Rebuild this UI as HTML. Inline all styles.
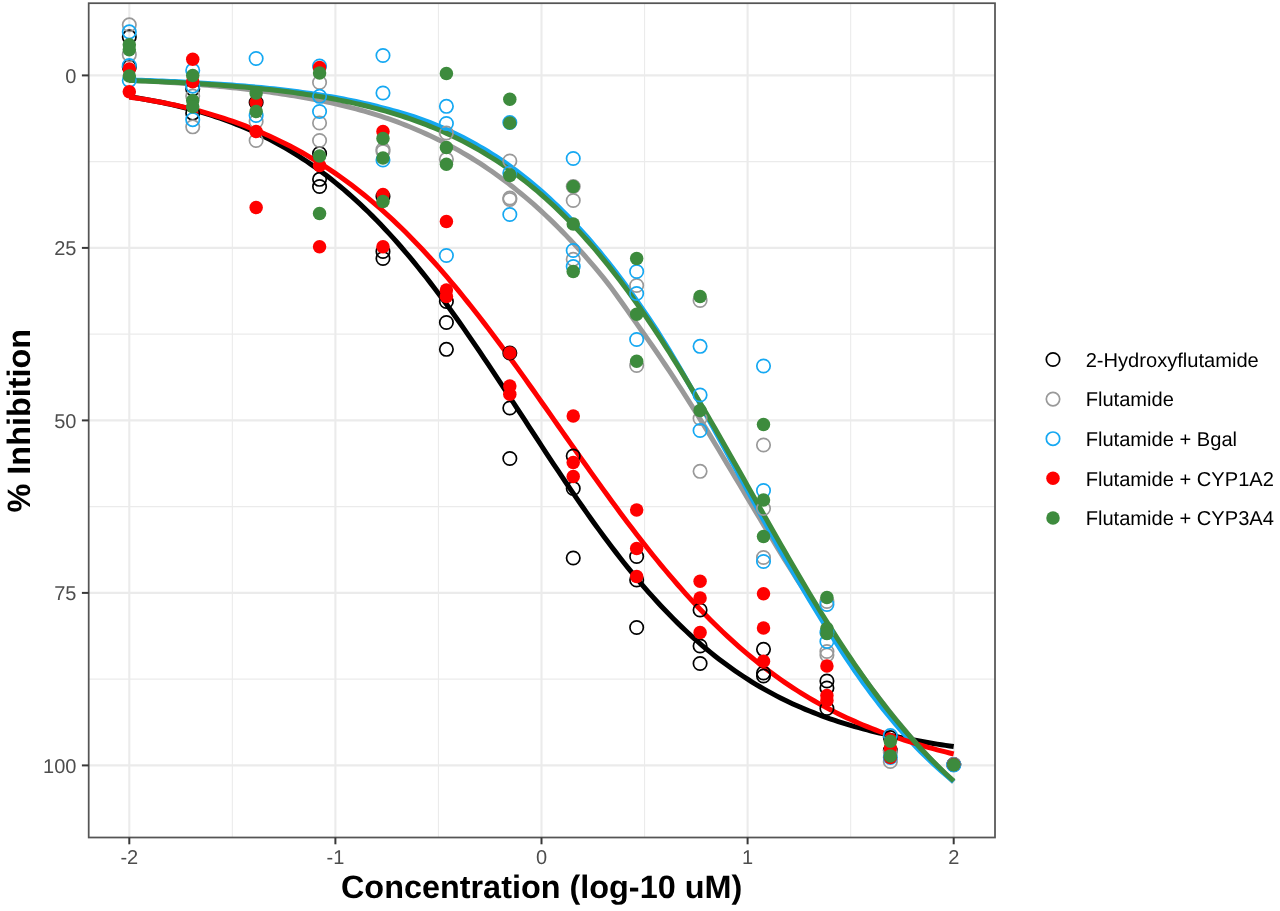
<!DOCTYPE html>
<html><head><meta charset="utf-8"><title>Dose response</title>
<style>html,body{margin:0;padding:0;background:#fff;}body{width:1280px;height:911px;overflow:hidden;position:relative;font-family:"Liberation Sans",sans-serif;}</style></head>
<body>
<svg width="1280" height="911" viewBox="0 0 1280 911" style="position:absolute;left:0;top:0;text-rendering:geometricPrecision;will-change:transform">
<rect x="0" y="0" width="1280" height="911" fill="#ffffff"/>
<line x1="232.35" y1="3.2" x2="232.35" y2="837.5" stroke="#ebebeb" stroke-width="1.1"/>
<line x1="438.45" y1="3.2" x2="438.45" y2="837.5" stroke="#ebebeb" stroke-width="1.1"/>
<line x1="644.55" y1="3.2" x2="644.55" y2="837.5" stroke="#ebebeb" stroke-width="1.1"/>
<line x1="850.65" y1="3.2" x2="850.65" y2="837.5" stroke="#ebebeb" stroke-width="1.1"/>
<line x1="88.7" y1="161.65" x2="995.0" y2="161.65" stroke="#ebebeb" stroke-width="1.1"/>
<line x1="88.7" y1="334.15" x2="995.0" y2="334.15" stroke="#ebebeb" stroke-width="1.1"/>
<line x1="88.7" y1="506.65" x2="995.0" y2="506.65" stroke="#ebebeb" stroke-width="1.1"/>
<line x1="88.7" y1="679.15" x2="995.0" y2="679.15" stroke="#ebebeb" stroke-width="1.1"/>
<line x1="129.30" y1="3.2" x2="129.30" y2="837.5" stroke="#ebebeb" stroke-width="2.1"/>
<line x1="335.40" y1="3.2" x2="335.40" y2="837.5" stroke="#ebebeb" stroke-width="2.1"/>
<line x1="541.50" y1="3.2" x2="541.50" y2="837.5" stroke="#ebebeb" stroke-width="2.1"/>
<line x1="747.60" y1="3.2" x2="747.60" y2="837.5" stroke="#ebebeb" stroke-width="2.1"/>
<line x1="953.70" y1="3.2" x2="953.70" y2="837.5" stroke="#ebebeb" stroke-width="2.1"/>
<line x1="88.7" y1="75.40" x2="995.0" y2="75.40" stroke="#ebebeb" stroke-width="2.1"/>
<line x1="88.7" y1="247.90" x2="995.0" y2="247.90" stroke="#ebebeb" stroke-width="2.1"/>
<line x1="88.7" y1="420.40" x2="995.0" y2="420.40" stroke="#ebebeb" stroke-width="2.1"/>
<line x1="88.7" y1="592.90" x2="995.0" y2="592.90" stroke="#ebebeb" stroke-width="2.1"/>
<line x1="88.7" y1="765.40" x2="995.0" y2="765.40" stroke="#ebebeb" stroke-width="2.1"/>
<path d="M129.30,96.78 L133.42,97.40 L137.54,98.05 L141.67,98.73 L145.79,99.44 L149.91,100.17 L154.03,100.94 L158.15,101.74 L162.28,102.57 L166.40,103.43 L170.52,104.33 L174.64,105.27 L178.76,106.24 L182.89,107.26 L187.01,108.31 L191.13,109.40 L195.25,110.54 L199.37,111.71 L203.50,112.92 L207.62,114.18 L211.74,115.48 L215.86,116.83 L219.98,118.23 L224.11,119.67 L228.23,121.17 L232.35,122.72 L236.47,124.32 L240.59,125.98 L244.72,127.71 L248.84,129.49 L252.96,131.34 L257.08,133.25 L261.20,135.22 L265.33,137.25 L269.45,139.35 L273.57,141.51 L277.69,143.74 L281.81,146.03 L285.94,148.39 L290.06,150.83 L294.18,153.33 L298.30,155.91 L302.42,158.56 L306.55,161.28 L310.67,164.09 L314.79,166.97 L318.91,169.93 L323.03,172.97 L327.16,176.10 L331.28,179.31 L335.40,182.60 L339.52,185.97 L343.64,189.43 L347.77,192.98 L351.89,196.62 L356.01,200.34 L360.13,204.16 L364.25,208.06 L368.38,212.05 L372.50,216.14 L376.62,220.31 L380.74,224.57 L384.86,228.93 L388.99,233.37 L393.11,237.90 L397.23,242.53 L401.35,247.24 L405.47,252.04 L409.60,256.93 L413.72,261.90 L417.84,266.96 L421.96,272.10 L426.08,277.32 L430.21,282.62 L434.33,288.00 L438.45,293.46 L442.57,298.99 L446.69,304.60 L450.82,310.27 L454.94,316.01 L459.06,321.81 L463.18,327.67 L467.30,333.59 L471.43,339.57 L475.55,345.60 L479.67,351.67 L483.79,357.79 L487.91,363.94 L492.04,370.14 L496.16,376.36 L500.28,382.61 L504.40,388.89 L508.52,395.19 L512.65,401.50 L516.77,407.82 L520.89,414.15 L525.01,420.48 L529.13,426.81 L533.26,433.14 L537.38,439.45 L541.50,445.75 L545.62,452.03 L549.74,458.29 L553.87,464.51 L557.99,470.71 L562.11,476.87 L566.23,482.99 L570.35,489.07 L574.48,495.10 L578.60,501.09 L582.72,507.01 L586.84,512.88 L590.96,518.69 L595.09,524.44 L599.21,530.12 L603.33,535.73 L607.45,541.27 L611.57,546.74 L615.70,552.13 L619.82,557.44 L623.94,562.68 L628.06,567.83 L632.18,572.89 L636.31,577.88 L640.43,582.77 L644.55,587.58 L648.67,592.31 L652.79,596.94 L656.92,601.48 L661.04,605.94 L665.16,610.30 L669.28,614.58 L673.40,618.76 L677.53,622.86 L681.65,626.86 L685.77,630.77 L689.89,634.60 L694.01,638.33 L698.14,641.98 L702.26,645.54 L706.38,649.01 L710.50,652.40 L714.62,655.70 L718.75,658.92 L722.87,662.05 L726.99,665.11 L731.11,668.08 L735.23,670.97 L739.36,673.79 L743.48,676.53 L747.60,679.19 L751.72,681.78 L755.84,684.30 L759.97,686.74 L764.09,689.12 L768.21,691.42 L772.33,693.66 L776.45,695.84 L780.58,697.95 L784.70,699.99 L788.82,701.98 L792.94,703.90 L797.06,705.77 L801.19,707.58 L805.31,709.34 L809.43,711.04 L813.55,712.69 L817.67,714.28 L821.80,715.83 L825.92,717.33 L830.04,718.78 L834.16,720.18 L838.28,721.54 L842.41,722.86 L846.53,724.13 L850.65,725.37 L854.77,726.56 L858.89,727.71 L863.02,728.83 L867.14,729.91 L871.26,730.96 L875.38,731.97 L879.50,732.95 L883.63,733.89 L887.75,734.81 L891.87,735.69 L895.99,736.56 L900.11,737.40 L904.24,738.23 L908.36,739.03 L912.48,739.82 L916.60,740.58 L920.72,741.33 L924.85,742.05 L928.97,742.76 L933.09,743.45 L937.21,744.11 L941.33,744.76 L945.46,745.39 L949.58,746.00 L953.70,746.58" fill="none" stroke="#000000" stroke-width="5.0" stroke-linejoin="round" stroke-linecap="butt"/>
<path d="M129.30,80.25 L133.42,80.45 L137.54,80.65 L141.67,80.86 L145.79,81.08 L149.91,81.31 L154.03,81.54 L158.15,81.78 L162.28,82.02 L166.40,82.28 L170.52,82.54 L174.64,82.81 L178.76,83.09 L182.89,83.38 L187.01,83.68 L191.13,83.99 L195.25,84.30 L199.37,84.63 L203.50,84.97 L207.62,85.32 L211.74,85.68 L215.86,86.05 L219.98,86.44 L224.11,86.83 L228.23,87.24 L232.35,87.67 L236.47,88.11 L240.59,88.56 L244.72,89.02 L248.84,89.51 L252.96,90.00 L257.08,90.52 L261.20,91.04 L265.33,91.59 L269.45,92.14 L273.57,92.72 L277.69,93.31 L281.81,93.91 L285.94,94.54 L290.06,95.18 L294.18,95.85 L298.30,96.53 L302.42,97.24 L306.55,97.97 L310.67,98.73 L314.79,99.51 L318.91,100.31 L323.03,101.14 L327.16,102.00 L331.28,102.89 L335.40,103.81 L339.52,104.76 L343.64,105.74 L347.77,106.75 L351.89,107.80 L356.01,108.89 L360.13,110.01 L364.25,111.16 L368.38,112.36 L372.50,113.60 L376.62,114.88 L380.74,116.20 L384.86,117.56 L388.99,118.97 L393.11,120.43 L397.23,121.94 L401.35,123.49 L405.47,125.10 L409.60,126.75 L413.72,128.45 L417.84,130.21 L421.96,132.01 L426.08,133.87 L430.21,135.78 L434.33,137.74 L438.45,139.76 L442.57,141.83 L446.69,143.95 L450.82,146.13 L454.94,148.38 L459.06,150.69 L463.18,153.06 L467.30,155.50 L471.43,158.01 L475.55,160.58 L479.67,163.22 L483.79,165.92 L487.91,168.70 L492.04,171.54 L496.16,174.45 L500.28,177.44 L504.40,180.49 L508.52,183.62 L512.65,186.82 L516.77,190.09 L520.89,193.44 L525.01,196.88 L529.13,200.39 L533.26,203.98 L537.38,207.65 L541.50,211.40 L545.62,215.23 L549.74,219.14 L553.87,223.14 L557.99,227.22 L562.11,231.37 L566.23,235.62 L570.35,239.94 L574.48,244.35 L578.60,248.83 L582.72,253.39 L586.84,258.04 L590.96,262.78 L595.09,267.61 L599.21,272.54 L603.33,277.62 L607.45,282.90 L611.57,288.36 L615.70,293.96 L619.82,299.68 L623.94,305.49 L628.06,311.35 L632.18,317.23 L636.31,323.11 L640.43,328.95 L644.55,334.74 L648.67,340.60 L652.79,346.53 L656.92,352.53 L661.04,358.60 L665.16,364.74 L669.28,370.94 L673.40,377.20 L677.53,383.53 L681.65,389.91 L685.77,396.35 L689.89,402.85 L694.01,409.40 L698.14,416.00 L702.26,422.65 L706.38,429.36 L710.50,436.13 L714.62,442.95 L718.75,449.80 L722.87,456.69 L726.99,463.60 L731.11,470.51 L735.23,477.43 L739.36,484.34 L743.48,491.24 L747.60,498.14 L751.72,505.03 L755.84,511.91 L759.97,518.78 L764.09,525.63 L768.21,532.47 L772.33,539.28 L776.45,546.08 L780.58,552.85 L784.70,559.58 L788.82,566.22 L792.94,572.79 L797.06,579.29 L801.19,585.72 L805.31,592.09 L809.43,598.42 L813.55,604.70 L817.67,610.95 L821.80,617.17 L825.92,623.37 L830.04,629.55 L834.16,635.67 L838.28,641.73 L842.41,647.74 L846.53,653.68 L850.65,659.55 L854.77,665.37 L858.89,671.11 L863.02,676.78 L867.14,682.39 L871.26,687.92 L875.38,693.38 L879.50,698.76 L883.63,704.08 L887.75,709.31 L891.87,714.47 L895.99,719.54 L900.11,724.54 L904.24,729.45 L908.36,734.27 L912.48,739.02 L916.60,743.68 L920.72,748.25 L924.85,752.75 L928.97,757.16 L933.09,761.49 L937.21,765.74 L941.33,769.91 L945.46,774.00 L949.58,778.01 L953.70,781.94" fill="none" stroke="#999999" stroke-width="5.0" stroke-linejoin="round" stroke-linecap="butt"/>
<path d="M129.30,79.85 L133.42,79.99 L137.54,80.13 L141.67,80.28 L145.79,80.43 L149.91,80.58 L154.03,80.74 L158.15,80.91 L162.28,81.08 L166.40,81.25 L170.52,81.43 L174.64,81.62 L178.76,81.82 L182.89,82.02 L187.01,82.23 L191.13,82.44 L195.25,82.67 L199.37,82.90 L203.50,83.14 L207.62,83.39 L211.74,83.64 L215.86,83.91 L219.98,84.19 L224.11,84.47 L228.23,84.77 L232.35,85.08 L236.47,85.40 L240.59,85.73 L244.72,86.07 L248.84,86.43 L252.96,86.80 L257.08,87.18 L261.20,87.58 L265.33,87.99 L269.45,88.41 L273.57,88.85 L277.69,89.30 L281.81,89.77 L285.94,90.25 L290.06,90.75 L294.18,91.27 L298.30,91.80 L302.42,92.36 L306.55,92.93 L310.67,93.52 L314.79,94.14 L318.91,94.77 L323.03,95.43 L327.16,96.11 L331.28,96.81 L335.40,97.54 L339.52,98.29 L343.64,99.06 L347.77,99.86 L351.89,100.69 L356.01,101.54 L360.13,102.43 L364.25,103.34 L368.38,104.28 L372.50,105.26 L376.62,106.26 L380.74,107.30 L384.86,108.37 L388.99,109.46 L393.11,110.57 L397.23,111.71 L401.35,112.89 L405.47,114.11 L409.60,115.38 L413.72,116.71 L417.84,118.11 L421.96,119.57 L426.08,121.09 L430.21,122.66 L434.33,124.29 L438.45,125.98 L442.57,127.74 L446.69,129.59 L450.82,131.49 L454.94,133.46 L459.06,135.48 L463.18,137.57 L467.30,139.72 L471.43,141.93 L475.55,144.21 L479.67,146.56 L483.79,148.98 L487.91,151.47 L492.04,154.03 L496.16,156.66 L500.28,159.38 L504.40,162.16 L508.52,165.03 L512.65,167.98 L516.77,171.01 L520.89,174.14 L525.01,177.36 L529.13,180.67 L533.26,184.07 L537.38,187.56 L541.50,191.14 L545.62,194.82 L549.74,198.59 L553.87,202.46 L557.99,206.41 L562.11,210.47 L566.23,214.61 L570.35,218.85 L574.48,223.18 L578.60,227.61 L582.72,232.13 L586.84,236.75 L590.96,241.47 L595.09,246.29 L599.21,251.20 L603.33,256.22 L607.45,261.33 L611.57,266.55 L615.70,271.86 L619.82,277.28 L623.94,282.79 L628.06,288.41 L632.18,294.12 L636.31,299.94 L640.43,305.85 L644.55,311.86 L648.67,317.96 L652.79,324.16 L656.92,330.49 L661.04,336.99 L665.16,343.64 L669.28,350.42 L673.40,357.31 L677.53,364.29 L681.65,371.34 L685.77,378.45 L689.89,385.65 L694.01,392.96 L698.14,400.35 L702.26,407.79 L706.38,415.26 L710.50,422.72 L714.62,430.21 L718.75,437.72 L722.87,445.25 L726.99,452.80 L731.11,460.35 L735.23,467.90 L739.36,475.45 L743.48,482.98 L747.60,490.54 L751.72,498.09 L755.84,505.65 L759.97,513.18 L764.09,520.69 L768.21,528.17 L772.33,535.60 L776.45,542.97 L780.58,550.28 L784.70,557.52 L788.82,564.68 L792.94,571.77 L797.06,578.82 L801.19,585.83 L805.31,592.77 L809.43,599.66 L813.55,606.49 L817.67,613.26 L821.80,619.96 L825.92,626.58 L830.04,633.14 L834.16,639.61 L838.28,646.01 L842.41,652.33 L846.53,658.56 L850.65,664.70 L854.77,670.74 L858.89,676.65 L863.02,682.43 L867.14,688.10 L871.26,693.65 L875.38,699.09 L879.50,704.41 L883.63,709.63 L887.75,714.74 L891.87,719.74 L895.99,724.65 L900.11,729.46 L904.24,734.15 L908.36,738.71 L912.48,743.15 L916.60,747.46 L920.72,751.67 L924.85,755.77 L928.97,759.76 L933.09,763.66 L937.21,767.45 L941.33,771.13 L945.46,774.70 L949.58,778.17 L953.70,781.54" fill="none" stroke="#15A8F2" stroke-width="5.0" stroke-linejoin="round" stroke-linecap="butt"/>
<path d="M129.30,97.07 L133.42,97.65 L137.54,98.26 L141.67,98.89 L145.79,99.55 L149.91,100.24 L154.03,100.95 L158.15,101.70 L162.28,102.47 L166.40,103.28 L170.52,104.12 L174.64,105.00 L178.76,105.91 L182.89,106.86 L187.01,107.84 L191.13,108.87 L195.25,109.94 L199.37,111.04 L203.50,112.17 L207.62,113.34 L211.74,114.55 L215.86,115.80 L219.98,117.09 L224.11,118.41 L228.23,119.78 L232.35,121.20 L236.47,122.66 L240.59,124.16 L244.72,125.71 L248.84,127.31 L252.96,128.96 L257.08,130.66 L261.20,132.41 L265.33,134.20 L269.45,136.05 L273.57,137.95 L277.69,139.91 L281.81,141.91 L285.94,143.98 L290.06,146.09 L294.18,148.27 L298.30,150.50 L302.42,152.80 L306.55,155.15 L310.67,157.57 L314.79,160.04 L318.91,162.58 L323.03,165.19 L327.16,167.86 L331.28,170.60 L335.40,173.40 L339.52,176.28 L343.64,179.22 L347.77,182.23 L351.89,185.31 L356.01,188.47 L360.13,191.69 L364.25,194.99 L368.38,198.37 L372.50,201.81 L376.62,205.34 L380.74,208.93 L384.86,212.60 L388.99,216.35 L393.11,220.17 L397.23,224.07 L401.35,228.04 L405.47,232.09 L409.60,236.22 L413.72,240.42 L417.84,244.70 L421.96,249.05 L426.08,253.47 L430.21,257.97 L434.33,262.54 L438.45,267.18 L442.57,271.89 L446.69,276.68 L450.82,281.53 L454.94,286.45 L459.06,291.43 L463.18,296.48 L467.30,301.60 L471.43,306.77 L475.55,312.01 L479.67,317.30 L483.79,322.64 L487.91,328.04 L492.04,333.50 L496.16,338.99 L500.28,344.54 L504.40,350.13 L508.52,355.76 L512.65,361.43 L516.77,367.13 L520.89,372.87 L525.01,378.64 L529.13,384.43 L533.26,390.25 L537.38,396.08 L541.50,401.94 L545.62,407.81 L549.74,413.69 L553.87,419.57 L557.99,425.46 L562.11,431.36 L566.23,437.25 L570.35,443.13 L574.48,449.01 L578.60,454.87 L582.72,460.72 L586.84,466.55 L590.96,472.36 L595.09,478.14 L599.21,483.90 L603.33,489.62 L607.45,495.31 L611.57,500.97 L615.70,506.58 L619.82,512.15 L623.94,517.68 L628.06,523.16 L632.18,528.60 L636.31,533.98 L640.43,539.30 L644.55,544.57 L648.67,549.78 L652.79,554.94 L656.92,560.02 L661.04,565.05 L665.16,570.01 L669.28,574.90 L673.40,579.73 L677.53,584.49 L681.65,589.17 L685.77,593.79 L689.89,598.33 L694.01,602.80 L698.14,607.20 L702.26,611.52 L706.38,615.77 L710.50,619.94 L714.62,624.04 L718.75,628.06 L722.87,632.01 L726.99,635.88 L731.11,639.68 L735.23,643.40 L739.36,647.05 L743.48,650.62 L747.60,654.12 L751.72,657.54 L755.84,660.89 L759.97,664.17 L764.09,667.38 L768.21,670.51 L772.33,673.58 L776.45,676.57 L780.58,679.50 L784.70,682.35 L788.82,685.14 L792.94,687.86 L797.06,690.52 L801.19,693.11 L805.31,695.64 L809.43,698.11 L813.55,700.51 L817.67,702.86 L821.80,705.14 L825.92,707.37 L830.04,709.53 L834.16,711.65 L838.28,713.70 L842.41,715.70 L846.53,717.65 L850.65,719.55 L854.77,721.40 L858.89,723.20 L863.02,724.94 L867.14,726.65 L871.26,728.30 L875.38,729.91 L879.50,731.47 L883.63,732.99 L887.75,734.47 L891.87,735.91 L895.99,737.32 L900.11,738.70 L904.24,740.05 L908.36,741.37 L912.48,742.66 L916.60,743.92 L920.72,745.16 L924.85,746.36 L928.97,747.54 L933.09,748.69 L937.21,749.80 L941.33,750.89 L945.46,751.95 L949.58,752.98 L953.70,753.98" fill="none" stroke="#FF0000" stroke-width="5.0" stroke-linejoin="round" stroke-linecap="butt"/>
<path d="M129.30,80.45 L133.42,80.60 L137.54,80.75 L141.67,80.90 L145.79,81.06 L149.91,81.22 L154.03,81.39 L158.15,81.57 L162.28,81.75 L166.40,81.94 L170.52,82.13 L174.64,82.34 L178.76,82.55 L182.89,82.76 L187.01,82.99 L191.13,83.22 L195.25,83.46 L199.37,83.71 L203.50,83.97 L207.62,84.24 L211.74,84.51 L215.86,84.80 L219.98,85.10 L224.11,85.41 L228.23,85.72 L232.35,86.05 L236.47,86.39 L240.59,86.75 L244.72,87.11 L248.84,87.49 L252.96,87.88 L257.08,88.29 L261.20,88.71 L265.33,89.14 L269.45,89.59 L273.57,90.06 L277.69,90.54 L281.81,91.04 L285.94,91.55 L290.06,92.08 L294.18,92.64 L298.30,93.21 L302.42,93.80 L306.55,94.41 L310.67,95.04 L314.79,95.69 L318.91,96.37 L323.03,97.07 L327.16,97.79 L331.28,98.54 L335.40,99.31 L339.52,100.11 L343.64,100.94 L347.77,101.80 L351.89,102.68 L356.01,103.59 L360.13,104.54 L364.25,105.51 L368.38,106.52 L372.50,107.57 L376.62,108.64 L380.74,109.76 L384.86,110.91 L388.99,112.09 L393.11,113.32 L397.23,114.59 L401.35,115.90 L405.47,117.25 L409.60,118.64 L413.72,120.08 L417.84,121.57 L421.96,123.10 L426.08,124.69 L430.21,126.32 L434.33,128.01 L438.45,129.74 L442.57,131.54 L446.69,133.39 L450.82,135.29 L454.94,137.26 L459.06,139.28 L463.18,141.37 L467.30,143.52 L471.43,145.73 L475.55,148.01 L479.67,150.36 L483.79,152.78 L487.91,155.27 L492.04,157.83 L496.16,160.46 L500.28,163.18 L504.40,165.96 L508.52,168.83 L512.65,171.78 L516.77,174.80 L520.89,177.91 L525.01,181.11 L529.13,184.39 L533.26,187.75 L537.38,191.21 L541.50,194.75 L545.62,198.39 L549.74,202.12 L553.87,205.94 L557.99,209.85 L562.11,213.86 L566.23,217.97 L570.35,222.17 L574.48,226.47 L578.60,230.87 L582.72,235.37 L586.84,239.96 L590.96,244.66 L595.09,249.45 L599.21,254.35 L603.33,259.34 L607.45,264.44 L611.57,269.63 L615.70,274.92 L619.82,280.31 L623.94,285.80 L628.06,291.39 L632.18,297.07 L636.31,302.84 L640.43,308.71 L644.55,314.67 L648.67,320.73 L652.79,326.86 L656.92,333.09 L661.04,339.40 L665.16,345.79 L669.28,352.26 L673.40,358.81 L677.53,365.43 L681.65,372.12 L685.77,378.89 L689.89,385.71 L694.01,392.60 L698.14,399.54 L702.26,406.54 L706.38,413.59 L710.50,420.68 L714.62,427.82 L718.75,434.99 L722.87,442.20 L726.99,449.44 L731.11,456.70 L735.23,463.98 L739.36,471.28 L743.48,478.59 L747.60,485.91 L751.72,493.23 L755.84,500.55 L759.97,507.86 L764.09,515.16 L768.21,522.45 L772.33,529.71 L776.45,536.95 L780.58,544.16 L784.70,551.34 L788.82,558.48 L792.94,565.57 L797.06,572.62 L801.19,579.63 L805.31,586.57 L809.43,593.46 L813.55,600.29 L817.67,607.06 L821.80,613.76 L825.92,620.38 L830.04,626.94 L834.16,633.41 L838.28,639.81 L842.41,646.13 L846.53,652.36 L850.65,658.50 L854.77,664.56 L858.89,670.53 L863.02,676.40 L867.14,682.19 L871.26,687.87 L875.38,693.47 L879.50,698.96 L883.63,704.36 L887.75,709.66 L891.87,714.86 L895.99,719.96 L900.11,724.96 L904.24,729.86 L908.36,734.67 L912.48,739.37 L916.60,743.97 L920.72,748.48 L924.85,752.88 L928.97,757.19 L933.09,761.40 L937.21,765.51 L941.33,769.53 L945.46,773.45 L949.58,777.27 L953.70,781.01" fill="none" stroke="#3D8B3D" stroke-width="5.0" stroke-linejoin="round" stroke-linecap="butt"/>
<circle cx="129.30" cy="36.90" r="6.7" fill="none" stroke="#000000" stroke-width="1.7"/>
<circle cx="129.30" cy="66.90" r="6.7" fill="none" stroke="#000000" stroke-width="1.7"/>
<circle cx="192.72" cy="89.00" r="6.7" fill="none" stroke="#000000" stroke-width="1.7"/>
<circle cx="192.72" cy="113.20" r="6.7" fill="none" stroke="#000000" stroke-width="1.7"/>
<circle cx="256.14" cy="102.50" r="6.7" fill="none" stroke="#000000" stroke-width="1.7"/>
<circle cx="319.56" cy="153.50" r="6.7" fill="none" stroke="#000000" stroke-width="1.7"/>
<circle cx="319.56" cy="179.30" r="6.7" fill="none" stroke="#000000" stroke-width="1.7"/>
<circle cx="319.56" cy="186.50" r="6.7" fill="none" stroke="#000000" stroke-width="1.7"/>
<circle cx="382.98" cy="196.50" r="6.7" fill="none" stroke="#000000" stroke-width="1.7"/>
<circle cx="382.98" cy="251.50" r="6.7" fill="none" stroke="#000000" stroke-width="1.7"/>
<circle cx="382.98" cy="258.50" r="6.7" fill="none" stroke="#000000" stroke-width="1.7"/>
<circle cx="446.40" cy="301.50" r="6.7" fill="none" stroke="#000000" stroke-width="1.7"/>
<circle cx="446.40" cy="322.50" r="6.7" fill="none" stroke="#000000" stroke-width="1.7"/>
<circle cx="446.40" cy="349.30" r="6.7" fill="none" stroke="#000000" stroke-width="1.7"/>
<circle cx="509.82" cy="353.00" r="6.7" fill="none" stroke="#000000" stroke-width="1.7"/>
<circle cx="509.82" cy="408.00" r="6.7" fill="none" stroke="#000000" stroke-width="1.7"/>
<circle cx="509.82" cy="458.50" r="6.7" fill="none" stroke="#000000" stroke-width="1.7"/>
<circle cx="573.24" cy="456.00" r="6.7" fill="none" stroke="#000000" stroke-width="1.7"/>
<circle cx="573.24" cy="488.50" r="6.7" fill="none" stroke="#000000" stroke-width="1.7"/>
<circle cx="573.24" cy="558.00" r="6.7" fill="none" stroke="#000000" stroke-width="1.7"/>
<circle cx="636.66" cy="556.50" r="6.7" fill="none" stroke="#000000" stroke-width="1.7"/>
<circle cx="636.66" cy="580.00" r="6.7" fill="none" stroke="#000000" stroke-width="1.7"/>
<circle cx="636.66" cy="627.50" r="6.7" fill="none" stroke="#000000" stroke-width="1.7"/>
<circle cx="700.08" cy="610.00" r="6.7" fill="none" stroke="#000000" stroke-width="1.7"/>
<circle cx="700.08" cy="646.00" r="6.7" fill="none" stroke="#000000" stroke-width="1.7"/>
<circle cx="700.08" cy="663.50" r="6.7" fill="none" stroke="#000000" stroke-width="1.7"/>
<circle cx="763.50" cy="649.30" r="6.7" fill="none" stroke="#000000" stroke-width="1.7"/>
<circle cx="763.50" cy="673.00" r="6.7" fill="none" stroke="#000000" stroke-width="1.7"/>
<circle cx="763.50" cy="676.00" r="6.7" fill="none" stroke="#000000" stroke-width="1.7"/>
<circle cx="826.92" cy="681.00" r="6.7" fill="none" stroke="#000000" stroke-width="1.7"/>
<circle cx="826.92" cy="688.00" r="6.7" fill="none" stroke="#000000" stroke-width="1.7"/>
<circle cx="826.92" cy="708.50" r="6.7" fill="none" stroke="#000000" stroke-width="1.7"/>
<circle cx="890.34" cy="737.50" r="6.7" fill="none" stroke="#000000" stroke-width="1.7"/>
<circle cx="890.34" cy="750.50" r="6.7" fill="none" stroke="#000000" stroke-width="1.7"/>
<circle cx="953.76" cy="764.50" r="6.7" fill="none" stroke="#000000" stroke-width="1.7"/>
<circle cx="129.30" cy="24.80" r="6.7" fill="none" stroke="#999999" stroke-width="1.7"/>
<circle cx="129.30" cy="54.70" r="6.7" fill="none" stroke="#999999" stroke-width="1.7"/>
<circle cx="192.72" cy="96.10" r="6.7" fill="none" stroke="#999999" stroke-width="1.7"/>
<circle cx="192.72" cy="126.80" r="6.7" fill="none" stroke="#999999" stroke-width="1.7"/>
<circle cx="256.14" cy="121.50" r="6.7" fill="none" stroke="#999999" stroke-width="1.7"/>
<circle cx="256.14" cy="140.50" r="6.7" fill="none" stroke="#999999" stroke-width="1.7"/>
<circle cx="319.56" cy="82.50" r="6.7" fill="none" stroke="#999999" stroke-width="1.7"/>
<circle cx="319.56" cy="123.00" r="6.7" fill="none" stroke="#999999" stroke-width="1.7"/>
<circle cx="319.56" cy="140.50" r="6.7" fill="none" stroke="#999999" stroke-width="1.7"/>
<circle cx="382.98" cy="149.50" r="6.7" fill="none" stroke="#999999" stroke-width="1.7"/>
<circle cx="382.98" cy="151.50" r="6.7" fill="none" stroke="#999999" stroke-width="1.7"/>
<circle cx="446.40" cy="133.00" r="6.7" fill="none" stroke="#999999" stroke-width="1.7"/>
<circle cx="446.40" cy="159.30" r="6.7" fill="none" stroke="#999999" stroke-width="1.7"/>
<circle cx="509.82" cy="161.00" r="6.7" fill="none" stroke="#999999" stroke-width="1.7"/>
<circle cx="509.82" cy="198.00" r="6.7" fill="none" stroke="#999999" stroke-width="1.7"/>
<circle cx="509.82" cy="199.50" r="6.7" fill="none" stroke="#999999" stroke-width="1.7"/>
<circle cx="573.24" cy="186.50" r="6.7" fill="none" stroke="#999999" stroke-width="1.7"/>
<circle cx="573.24" cy="200.50" r="6.7" fill="none" stroke="#999999" stroke-width="1.7"/>
<circle cx="573.24" cy="259.30" r="6.7" fill="none" stroke="#999999" stroke-width="1.7"/>
<circle cx="636.66" cy="285.50" r="6.7" fill="none" stroke="#999999" stroke-width="1.7"/>
<circle cx="636.66" cy="365.50" r="6.7" fill="none" stroke="#999999" stroke-width="1.7"/>
<circle cx="700.08" cy="300.50" r="6.7" fill="none" stroke="#999999" stroke-width="1.7"/>
<circle cx="700.08" cy="418.50" r="6.7" fill="none" stroke="#999999" stroke-width="1.7"/>
<circle cx="700.08" cy="471.30" r="6.7" fill="none" stroke="#999999" stroke-width="1.7"/>
<circle cx="763.50" cy="445.00" r="6.7" fill="none" stroke="#999999" stroke-width="1.7"/>
<circle cx="763.50" cy="508.50" r="6.7" fill="none" stroke="#999999" stroke-width="1.7"/>
<circle cx="763.50" cy="557.50" r="6.7" fill="none" stroke="#999999" stroke-width="1.7"/>
<circle cx="826.92" cy="601.50" r="6.7" fill="none" stroke="#999999" stroke-width="1.7"/>
<circle cx="826.92" cy="651.50" r="6.7" fill="none" stroke="#999999" stroke-width="1.7"/>
<circle cx="826.92" cy="655.00" r="6.7" fill="none" stroke="#999999" stroke-width="1.7"/>
<circle cx="890.34" cy="761.50" r="6.7" fill="none" stroke="#999999" stroke-width="1.7"/>
<circle cx="890.34" cy="752.50" r="6.7" fill="none" stroke="#999999" stroke-width="1.7"/>
<circle cx="953.76" cy="764.50" r="6.7" fill="none" stroke="#999999" stroke-width="1.7"/>
<circle cx="129.30" cy="31.90" r="6.7" fill="none" stroke="#15A8F2" stroke-width="1.7"/>
<circle cx="129.30" cy="65.50" r="6.7" fill="none" stroke="#15A8F2" stroke-width="1.7"/>
<circle cx="129.30" cy="80.40" r="6.7" fill="none" stroke="#15A8F2" stroke-width="1.7"/>
<circle cx="192.72" cy="70.40" r="6.7" fill="none" stroke="#15A8F2" stroke-width="1.7"/>
<circle cx="192.72" cy="86.10" r="6.7" fill="none" stroke="#15A8F2" stroke-width="1.7"/>
<circle cx="192.72" cy="119.70" r="6.7" fill="none" stroke="#15A8F2" stroke-width="1.7"/>
<circle cx="256.14" cy="58.50" r="6.7" fill="none" stroke="#15A8F2" stroke-width="1.7"/>
<circle cx="256.14" cy="115.50" r="6.7" fill="none" stroke="#15A8F2" stroke-width="1.7"/>
<circle cx="319.56" cy="66.00" r="6.7" fill="none" stroke="#15A8F2" stroke-width="1.7"/>
<circle cx="319.56" cy="96.30" r="6.7" fill="none" stroke="#15A8F2" stroke-width="1.7"/>
<circle cx="319.56" cy="111.50" r="6.7" fill="none" stroke="#15A8F2" stroke-width="1.7"/>
<circle cx="382.98" cy="55.50" r="6.7" fill="none" stroke="#15A8F2" stroke-width="1.7"/>
<circle cx="382.98" cy="93.00" r="6.7" fill="none" stroke="#15A8F2" stroke-width="1.7"/>
<circle cx="382.98" cy="160.00" r="6.7" fill="none" stroke="#15A8F2" stroke-width="1.7"/>
<circle cx="446.40" cy="106.30" r="6.7" fill="none" stroke="#15A8F2" stroke-width="1.7"/>
<circle cx="446.40" cy="123.50" r="6.7" fill="none" stroke="#15A8F2" stroke-width="1.7"/>
<circle cx="446.40" cy="255.50" r="6.7" fill="none" stroke="#15A8F2" stroke-width="1.7"/>
<circle cx="509.82" cy="122.50" r="6.7" fill="none" stroke="#15A8F2" stroke-width="1.7"/>
<circle cx="509.82" cy="173.00" r="6.7" fill="none" stroke="#15A8F2" stroke-width="1.7"/>
<circle cx="509.82" cy="214.50" r="6.7" fill="none" stroke="#15A8F2" stroke-width="1.7"/>
<circle cx="573.24" cy="158.50" r="6.7" fill="none" stroke="#15A8F2" stroke-width="1.7"/>
<circle cx="573.24" cy="250.50" r="6.7" fill="none" stroke="#15A8F2" stroke-width="1.7"/>
<circle cx="573.24" cy="266.50" r="6.7" fill="none" stroke="#15A8F2" stroke-width="1.7"/>
<circle cx="636.66" cy="271.50" r="6.7" fill="none" stroke="#15A8F2" stroke-width="1.7"/>
<circle cx="636.66" cy="293.50" r="6.7" fill="none" stroke="#15A8F2" stroke-width="1.7"/>
<circle cx="636.66" cy="339.50" r="6.7" fill="none" stroke="#15A8F2" stroke-width="1.7"/>
<circle cx="700.08" cy="346.30" r="6.7" fill="none" stroke="#15A8F2" stroke-width="1.7"/>
<circle cx="700.08" cy="395.00" r="6.7" fill="none" stroke="#15A8F2" stroke-width="1.7"/>
<circle cx="700.08" cy="430.50" r="6.7" fill="none" stroke="#15A8F2" stroke-width="1.7"/>
<circle cx="763.50" cy="366.00" r="6.7" fill="none" stroke="#15A8F2" stroke-width="1.7"/>
<circle cx="763.50" cy="490.50" r="6.7" fill="none" stroke="#15A8F2" stroke-width="1.7"/>
<circle cx="763.50" cy="561.50" r="6.7" fill="none" stroke="#15A8F2" stroke-width="1.7"/>
<circle cx="826.92" cy="604.50" r="6.7" fill="none" stroke="#15A8F2" stroke-width="1.7"/>
<circle cx="826.92" cy="632.50" r="6.7" fill="none" stroke="#15A8F2" stroke-width="1.7"/>
<circle cx="826.92" cy="641.50" r="6.7" fill="none" stroke="#15A8F2" stroke-width="1.7"/>
<circle cx="890.34" cy="735.50" r="6.7" fill="none" stroke="#15A8F2" stroke-width="1.7"/>
<circle cx="890.34" cy="757.50" r="6.7" fill="none" stroke="#15A8F2" stroke-width="1.7"/>
<circle cx="953.76" cy="765.00" r="6.7" fill="none" stroke="#15A8F2" stroke-width="1.7"/>
<circle cx="129.30" cy="69.00" r="6.75" fill="#FF0000"/>
<circle cx="129.30" cy="91.80" r="6.75" fill="#FF0000"/>
<circle cx="192.72" cy="59.30" r="6.75" fill="#FF0000"/>
<circle cx="192.72" cy="81.80" r="6.75" fill="#FF0000"/>
<circle cx="256.14" cy="102.50" r="6.75" fill="#FF0000"/>
<circle cx="256.14" cy="131.50" r="6.75" fill="#FF0000"/>
<circle cx="256.14" cy="207.50" r="6.75" fill="#FF0000"/>
<circle cx="319.56" cy="67.50" r="6.75" fill="#FF0000"/>
<circle cx="319.56" cy="165.50" r="6.75" fill="#FF0000"/>
<circle cx="319.56" cy="246.80" r="6.75" fill="#FF0000"/>
<circle cx="382.98" cy="131.50" r="6.75" fill="#FF0000"/>
<circle cx="382.98" cy="194.50" r="6.75" fill="#FF0000"/>
<circle cx="382.98" cy="246.80" r="6.75" fill="#FF0000"/>
<circle cx="446.40" cy="221.50" r="6.75" fill="#FF0000"/>
<circle cx="446.40" cy="290.00" r="6.75" fill="#FF0000"/>
<circle cx="446.40" cy="296.50" r="6.75" fill="#FF0000"/>
<circle cx="509.82" cy="353.00" r="6.75" fill="#FF0000"/>
<circle cx="509.82" cy="386.00" r="6.75" fill="#FF0000"/>
<circle cx="509.82" cy="394.30" r="6.75" fill="#FF0000"/>
<circle cx="573.24" cy="416.00" r="6.75" fill="#FF0000"/>
<circle cx="573.24" cy="462.50" r="6.75" fill="#FF0000"/>
<circle cx="573.24" cy="476.50" r="6.75" fill="#FF0000"/>
<circle cx="636.66" cy="510.00" r="6.75" fill="#FF0000"/>
<circle cx="636.66" cy="548.50" r="6.75" fill="#FF0000"/>
<circle cx="636.66" cy="576.50" r="6.75" fill="#FF0000"/>
<circle cx="700.08" cy="581.30" r="6.75" fill="#FF0000"/>
<circle cx="700.08" cy="598.00" r="6.75" fill="#FF0000"/>
<circle cx="700.08" cy="632.50" r="6.75" fill="#FF0000"/>
<circle cx="763.50" cy="593.80" r="6.75" fill="#FF0000"/>
<circle cx="763.50" cy="628.00" r="6.75" fill="#FF0000"/>
<circle cx="763.50" cy="661.30" r="6.75" fill="#FF0000"/>
<circle cx="826.92" cy="666.00" r="6.75" fill="#FF0000"/>
<circle cx="826.92" cy="695.50" r="6.75" fill="#FF0000"/>
<circle cx="826.92" cy="700.50" r="6.75" fill="#FF0000"/>
<circle cx="890.34" cy="748.00" r="6.75" fill="#FF0000"/>
<circle cx="890.34" cy="757.50" r="6.75" fill="#FF0000"/>
<circle cx="953.76" cy="764.50" r="6.75" fill="#FF0000"/>
<circle cx="129.30" cy="44.70" r="6.75" fill="#3D8B3D"/>
<circle cx="129.30" cy="49.70" r="6.75" fill="#3D8B3D"/>
<circle cx="129.30" cy="76.10" r="6.75" fill="#3D8B3D"/>
<circle cx="192.72" cy="75.40" r="6.75" fill="#3D8B3D"/>
<circle cx="192.72" cy="100.40" r="6.75" fill="#3D8B3D"/>
<circle cx="192.72" cy="106.80" r="6.75" fill="#3D8B3D"/>
<circle cx="256.14" cy="93.00" r="6.75" fill="#3D8B3D"/>
<circle cx="256.14" cy="111.50" r="6.75" fill="#3D8B3D"/>
<circle cx="319.56" cy="73.00" r="6.75" fill="#3D8B3D"/>
<circle cx="319.56" cy="156.00" r="6.75" fill="#3D8B3D"/>
<circle cx="319.56" cy="213.50" r="6.75" fill="#3D8B3D"/>
<circle cx="382.98" cy="138.50" r="6.75" fill="#3D8B3D"/>
<circle cx="382.98" cy="158.00" r="6.75" fill="#3D8B3D"/>
<circle cx="382.98" cy="201.50" r="6.75" fill="#3D8B3D"/>
<circle cx="446.40" cy="73.50" r="6.75" fill="#3D8B3D"/>
<circle cx="446.40" cy="147.50" r="6.75" fill="#3D8B3D"/>
<circle cx="446.40" cy="164.30" r="6.75" fill="#3D8B3D"/>
<circle cx="509.82" cy="99.30" r="6.75" fill="#3D8B3D"/>
<circle cx="509.82" cy="123.00" r="6.75" fill="#3D8B3D"/>
<circle cx="509.82" cy="175.50" r="6.75" fill="#3D8B3D"/>
<circle cx="573.24" cy="186.50" r="6.75" fill="#3D8B3D"/>
<circle cx="573.24" cy="224.00" r="6.75" fill="#3D8B3D"/>
<circle cx="573.24" cy="271.50" r="6.75" fill="#3D8B3D"/>
<circle cx="636.66" cy="258.50" r="6.75" fill="#3D8B3D"/>
<circle cx="636.66" cy="314.30" r="6.75" fill="#3D8B3D"/>
<circle cx="636.66" cy="361.30" r="6.75" fill="#3D8B3D"/>
<circle cx="700.08" cy="296.50" r="6.75" fill="#3D8B3D"/>
<circle cx="700.08" cy="410.50" r="6.75" fill="#3D8B3D"/>
<circle cx="763.50" cy="424.50" r="6.75" fill="#3D8B3D"/>
<circle cx="763.50" cy="500.00" r="6.75" fill="#3D8B3D"/>
<circle cx="763.50" cy="536.50" r="6.75" fill="#3D8B3D"/>
<circle cx="826.92" cy="597.50" r="6.75" fill="#3D8B3D"/>
<circle cx="826.92" cy="628.50" r="6.75" fill="#3D8B3D"/>
<circle cx="826.92" cy="633.50" r="6.75" fill="#3D8B3D"/>
<circle cx="890.34" cy="741.30" r="6.75" fill="#3D8B3D"/>
<circle cx="890.34" cy="756.10" r="6.75" fill="#3D8B3D"/>
<circle cx="953.76" cy="764.80" r="6.75" fill="#3D8B3D"/>
<rect x="88.7" y="3.2" width="906.3" height="834.3" fill="none" stroke="#555555" stroke-width="1.75"/>
<line x1="129.30" y1="837.5" x2="129.30" y2="844.3" stroke="#383838" stroke-width="2.0"/>
<line x1="335.40" y1="837.5" x2="335.40" y2="844.3" stroke="#383838" stroke-width="2.0"/>
<line x1="541.50" y1="837.5" x2="541.50" y2="844.3" stroke="#383838" stroke-width="2.0"/>
<line x1="747.60" y1="837.5" x2="747.60" y2="844.3" stroke="#383838" stroke-width="2.0"/>
<line x1="953.70" y1="837.5" x2="953.70" y2="844.3" stroke="#383838" stroke-width="2.0"/>
<line x1="81.9" y1="75.40" x2="88.7" y2="75.40" stroke="#383838" stroke-width="2.0"/>
<line x1="81.9" y1="247.90" x2="88.7" y2="247.90" stroke="#383838" stroke-width="2.0"/>
<line x1="81.9" y1="420.40" x2="88.7" y2="420.40" stroke="#383838" stroke-width="2.0"/>
<line x1="81.9" y1="592.90" x2="88.7" y2="592.90" stroke="#383838" stroke-width="2.0"/>
<line x1="81.9" y1="765.40" x2="88.7" y2="765.40" stroke="#383838" stroke-width="2.0"/>
<text x="129.30" y="864.4" text-anchor="middle" font-family="Liberation Sans, sans-serif" font-size="20" fill="#4d4d4d">-2</text>
<text x="335.40" y="864.4" text-anchor="middle" font-family="Liberation Sans, sans-serif" font-size="20" fill="#4d4d4d">-1</text>
<text x="541.50" y="864.4" text-anchor="middle" font-family="Liberation Sans, sans-serif" font-size="20" fill="#4d4d4d">0</text>
<text x="747.60" y="864.4" text-anchor="middle" font-family="Liberation Sans, sans-serif" font-size="20" fill="#4d4d4d">1</text>
<text x="953.70" y="864.4" text-anchor="middle" font-family="Liberation Sans, sans-serif" font-size="20" fill="#4d4d4d">2</text>
<text x="76.4" y="82.60" text-anchor="end" font-family="Liberation Sans, sans-serif" font-size="20" fill="#4d4d4d">0</text>
<text x="76.4" y="255.10" text-anchor="end" font-family="Liberation Sans, sans-serif" font-size="20" fill="#4d4d4d">25</text>
<text x="76.4" y="427.60" text-anchor="end" font-family="Liberation Sans, sans-serif" font-size="20" fill="#4d4d4d">50</text>
<text x="76.4" y="600.10" text-anchor="end" font-family="Liberation Sans, sans-serif" font-size="20" fill="#4d4d4d">75</text>
<text x="76.4" y="772.60" text-anchor="end" font-family="Liberation Sans, sans-serif" font-size="20" fill="#4d4d4d">100</text>
<text x="541.6" y="898.4" text-anchor="middle" font-family="Liberation Sans, sans-serif" font-weight="bold" font-size="32.4" fill="#000">Concentration (log-10 uM)</text>
<text transform="translate(30.2,420.7) rotate(-90)" text-anchor="middle" font-family="Liberation Sans, sans-serif" font-weight="bold" font-size="32.4" fill="#000">% Inhibition</text>
<circle cx="1053.0" cy="359.50" r="6.7" fill="none" stroke="#000000" stroke-width="1.7"/>
<text x="1085.7" y="366.70" font-family="Liberation Sans, sans-serif" font-size="20.1" fill="#000">2-Hydroxyflutamide</text>
<circle cx="1053.0" cy="399.10" r="6.7" fill="none" stroke="#999999" stroke-width="1.7"/>
<text x="1085.7" y="406.30" font-family="Liberation Sans, sans-serif" font-size="20.1" fill="#000">Flutamide</text>
<circle cx="1053.0" cy="438.70" r="6.7" fill="none" stroke="#15A8F2" stroke-width="1.7"/>
<text x="1085.7" y="445.90" font-family="Liberation Sans, sans-serif" font-size="20.1" fill="#000">Flutamide + Bgal</text>
<circle cx="1053.0" cy="478.30" r="6.75" fill="#FF0000"/>
<text x="1085.7" y="485.50" font-family="Liberation Sans, sans-serif" font-size="20.1" fill="#000">Flutamide + CYP1A2</text>
<circle cx="1053.0" cy="517.90" r="6.75" fill="#3D8B3D"/>
<text x="1085.7" y="525.10" font-family="Liberation Sans, sans-serif" font-size="20.1" fill="#000">Flutamide + CYP3A4</text>
</svg>
</body></html>
